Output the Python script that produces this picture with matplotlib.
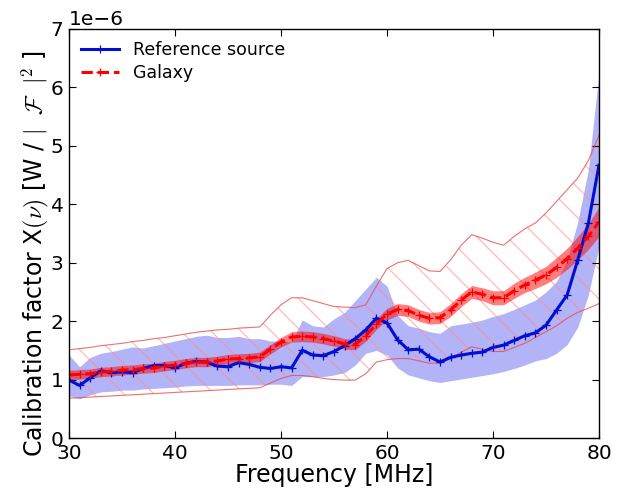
import numpy as np
import matplotlib
matplotlib.use("Agg")
import matplotlib.pyplot as plt

# frequency grid [MHz]
freq = np.arange(30, 81)

# reference source calibration (units of 1e-6)
ref_mean = [0.99, 0.90, 1.03, 1.15, 1.12, 1.13, 1.12, 1.19, 1.24, 1.24,
            1.20, 1.28, 1.31, 1.30, 1.23, 1.22, 1.29, 1.26, 1.21, 1.19,
            1.22, 1.20, 1.50, 1.42, 1.41, 1.48, 1.58, 1.70, 1.85, 2.05,
            1.97, 1.68, 1.51, 1.52, 1.39, 1.30, 1.38, 1.42, 1.45, 1.47,
            1.55, 1.59, 1.67, 1.75, 1.80, 1.93, 2.19, 2.45, 3.05, 3.68,
            4.67]
ref_upper = [1.42, 1.22, 1.38, 1.45, 1.48, 1.52, 1.56, 1.54, 1.58, 1.62,
             1.66, 1.70, 1.74, 1.76, 1.72, 1.72, 1.74, 1.70, 1.70, 1.66,
             1.66, 1.64, 2.02, 1.92, 1.90, 2.04, 2.15, 2.35, 2.55, 2.75,
             2.60, 2.10, 1.92, 1.88, 1.82, 1.79, 1.92, 1.95, 1.98, 2.02,
             2.08, 2.13, 2.20, 2.28, 2.36, 2.50, 2.68, 3.05, 3.70, 4.60,
             6.25]
ref_lower = [0.72, 0.67, 0.74, 0.79, 0.80, 0.82, 0.82, 0.84, 0.85, 0.86,
             0.87, 0.89, 0.90, 0.90, 0.90, 0.90, 0.91, 0.91, 0.91, 0.92,
             0.92, 0.90, 1.05, 1.05, 1.05, 1.08, 1.12, 1.25, 1.45, 1.50,
             1.42, 1.20, 1.08, 1.03, 0.98, 0.95, 0.98, 1.01, 1.04, 1.07,
             1.10, 1.14, 1.19, 1.25, 1.32, 1.36, 1.45, 1.60, 1.90, 2.45,
             3.28]

# galaxy calibration
gal_mean = [1.08, 1.09, 1.10, 1.13, 1.14, 1.16, 1.17, 1.19, 1.20, 1.23,
            1.25, 1.28, 1.30, 1.30, 1.32, 1.35, 1.36, 1.37, 1.39, 1.52,
            1.64, 1.73, 1.74, 1.73, 1.70, 1.66, 1.61, 1.60, 1.75, 1.95,
            2.12, 2.20, 2.18, 2.10, 2.05, 2.06, 2.19, 2.36, 2.50, 2.46,
            2.40, 2.40, 2.52, 2.62, 2.70, 2.79, 2.92, 3.07, 3.25, 3.45,
            3.70]
gal_err = [0.08, 0.08, 0.08, 0.08, 0.08, 0.08, 0.08, 0.08, 0.08, 0.08,
           0.08, 0.08, 0.08, 0.08, 0.08, 0.08, 0.08, 0.08, 0.08, 0.08,
           0.08, 0.09, 0.09, 0.09, 0.09, 0.09, 0.09, 0.09, 0.09, 0.09,
           0.10, 0.10, 0.10, 0.10, 0.10, 0.10, 0.11, 0.11, 0.11, 0.11,
           0.12, 0.12, 0.13, 0.13, 0.14, 0.15, 0.17, 0.18, 0.20, 0.22,
           0.25]
# systematic range of galaxy model (hatched)
gal_sys_upper = [1.51, 1.53, 1.55, 1.58, 1.60, 1.62, 1.65, 1.67, 1.70, 1.72,
                 1.75, 1.78, 1.81, 1.83, 1.85, 1.86, 1.88, 1.89, 1.90, 2.10,
                 2.28, 2.40, 2.40, 2.35, 2.30, 2.25, 2.24, 2.23, 2.28, 2.60,
                 2.90, 3.00, 3.04, 2.95, 2.86, 2.85, 3.05, 3.30, 3.48, 3.42,
                 3.35, 3.30, 3.45, 3.58, 3.68, 3.85, 4.05, 4.25, 4.45, 4.75,
                 5.18]
gal_sys_lower = [0.68, 0.69, 0.70, 0.71, 0.72, 0.73, 0.74, 0.75, 0.76, 0.77,
                 0.78, 0.79, 0.80, 0.81, 0.82, 0.83, 0.84, 0.85, 0.86, 0.94,
                 1.02, 1.07, 1.07, 1.05, 1.02, 1.00, 0.99, 0.99, 1.10, 1.30,
                 1.34, 1.36, 1.36, 1.32, 1.28, 1.28, 1.36, 1.47, 1.56, 1.52,
                 1.48, 1.48, 1.55, 1.62, 1.72, 1.82, 1.92, 2.05, 2.15, 2.22,
                 2.30]

scale = 1e-6
ref_mean = np.array(ref_mean) * scale
ref_upper = np.array(ref_upper) * scale
ref_lower = np.array(ref_lower) * scale
gal_mean = np.array(gal_mean) * scale
gal_err = np.array(gal_err) * scale
gal_sys_upper = np.array(gal_sys_upper) * scale
gal_sys_lower = np.array(gal_sys_lower) * scale

# dpi picked so the hatch spacing comes out like the original
DPI = 90
k = 100.0 / DPI  # sizes below are tuned as if at 100 dpi

plt.rcParams['mathtext.fontset'] = 'cm'
plt.rcParams['font.family'] = 'DejaVu Sans'
plt.rcParams['hatch.linewidth'] = 0.9 * k
plt.rcParams['xtick.direction'] = 'in'
plt.rcParams['ytick.direction'] = 'in'
plt.rcParams['xtick.top'] = True
plt.rcParams['ytick.right'] = True

fig = plt.figure(figsize=(619 / DPI, 488 / DPI), dpi=DPI)
ax = fig.add_axes([69 / 619, 50 / 488, 530 / 619, 409 / 488])

ax.fill_between(freq, ref_lower, ref_upper, color=(0.70, 0.70, 0.97), lw=0)
# hatched systematic band, light hatch + thin red outline
ax.fill_between(freq, gal_sys_lower, gal_sys_upper, facecolor='none',
                edgecolor=(1.0, 0.55, 0.55, 0.6), hatch='\\', lw=0)
ax.plot(freq, gal_sys_upper, color=(0.9, 0.3, 0.3), lw=0.8 * k, alpha=0.8)
ax.plot(freq, gal_sys_lower, color=(0.9, 0.3, 0.3), lw=0.8 * k, alpha=0.8)
ax.fill_between(freq, gal_mean - gal_err, gal_mean + gal_err,
                color='red', alpha=0.5, lw=0)
ax.plot(freq, ref_mean, color='#0010d0', lw=2.2 * k, marker='+',
        ms=6 * k, mew=0.9 * k, label='Reference source')
ax.plot(freq, gal_mean, color='red', lw=2.2 * k, ls='--', marker='+',
        ms=6 * k, mew=0.9 * k, label='Galaxy')

ax.set_xlim(30, 80)
ax.set_ylim(0, 7e-6)
ax.set_xticks([30, 40, 50, 60, 70, 80])
ax.tick_params(labelsize=14.5 * k, length=5 * k, width=0.8 * k, pad=4 * k)
ax.yaxis.get_offset_text().set_fontsize(14.5 * k)
for sp in ax.spines.values():
    sp.set_linewidth(1.0 * k)

ax.set_xlabel('Frequency [MHz]', fontsize=17 * k, labelpad=0)
ax.set_ylabel(r'Calibration factor X$(\nu)$ [W / $|\ \ \mathcal{F}\ \ |^2$ ]',
              fontsize=17 * k)
ax.yaxis.set_label_coords(-0.034, 0.45)

ax.legend(loc='upper left', frameon=False, fontsize=12.5 * k,
          handlelength=2.2, labelspacing=0.3, borderaxespad=0.3)

fig.savefig('out.png', dpi=DPI)
